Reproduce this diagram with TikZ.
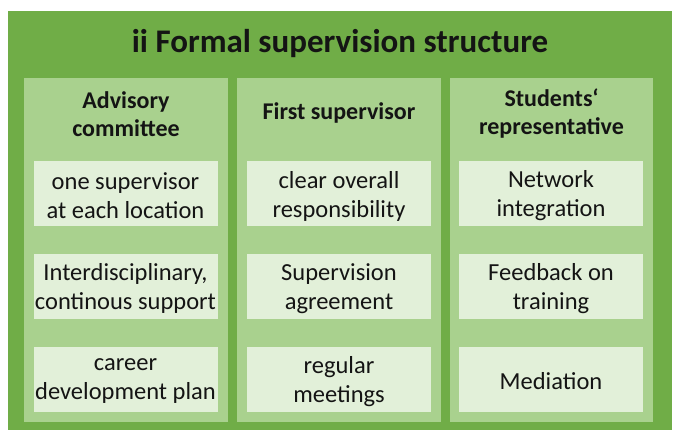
\documentclass[tikz,border=0pt]{standalone}
\usepackage{fontspec}
\setmainfont{Carlito}
\definecolor{outerg}{HTML}{70AD47}
\definecolor{panelg}{HTML}{A9D18E}
\definecolor{boxg}{HTML}{E2F0D9}
\definecolor{txt}{HTML}{141414}
\begin{document}
\begin{tikzpicture}[x=1pt,y=-1pt,
  panel/.style={fill=panelg,draw=none},
  item/.style={fill=boxg,draw=none,minimum width=184pt,minimum height=65pt,inner sep=0pt,
    align=center,text=txt,font=\fontsize{24.5}{29}\selectfont},
  itemtext/.style={align=center,text=txt,font=\fontsize{24.5}{29}\selectfont},
  head/.style={align=center,text=txt,font=\fontsize{24}{28}\selectfont\bfseries},
  ttl/.style={text=txt,font=\fontsize{33}{38}\selectfont\bfseries}]
\useasboundingbox[fill=white] (0,0) rectangle (682,435);
\fill[outerg] (7.5,11) rectangle (672,430);
\node[ttl] (title) at (340,44) {ii Formal supervision structure};
% panels
\fill[panel] (24,78) rectangle (228,422);
\fill[panel] (237,78) rectangle (441,422);
\fill[panel] (450,78) rectangle (653,422);
% headers
\node[head] (h1) at (126,114) {Advisory\\committee};
\node[head] (h2) at (339,113) {First supervisor};
\node[head] (h3) at (551.5,114) {Students`\\representative};
% column 1
\node[item] (a1) at (125.5,194) {};
\node[itemtext] (ta1) at (125.5,196) {one supervisor\\at each location};
\node[item] (a2) at (125.5,286.5) {};
\node[itemtext] (ta2) at (125.5,288.5) {Interdisciplinary,\\continous support};
\node[item] (a3) at (125.5,379.5) {};
\node[itemtext] (ta3) at (125.5,381.5) {career\\development plan};
% column 2
\node[item] (b1) at (339,194) {};
\node[itemtext] (tb1) at (339,196) {clear overall\\responsibility};
\node[item] (b2) at (339,286.5) {};
\node[itemtext] (tb2) at (339,288.5) {Supervision\\agreement};
\node[item] (b3) at (339,379.5) {};
\node[itemtext] (tb3) at (339,381.5) {regular\\meetings};
% column 3
\node[item] (c1) at (551,194) {};
\node[itemtext] (tc1) at (551,196) {Network\\integration};
\node[item] (c2) at (551,286.5) {};
\node[itemtext] (tc2) at (551,288.5) {Feedback on\\training};
\node[item] (c3) at (551,379.5) {};
\node[itemtext] (tc3) at (551,381.5) {Mediation};
\end{tikzpicture}
\end{document}
